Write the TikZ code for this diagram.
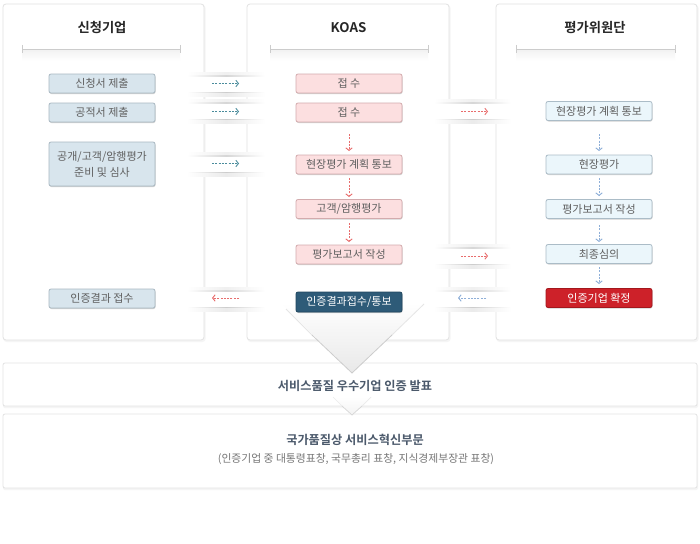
\documentclass[tikz,border=0pt]{standalone}
\usepackage{fontspec}
\setmainfont{Noto Sans CJK KR}[BoldFont={Noto Sans CJK KR Bold}]
\usetikzlibrary{arrows.meta,shadows}
\definecolor{panelborder}{HTML}{E2E2E2}
\definecolor{lfill}{HTML}{D8E5ED}
\definecolor{lborder}{HTML}{A9B8C2}
\definecolor{mfill}{HTML}{FCDFE0}
\definecolor{mborder}{HTML}{D3ABAD}
\definecolor{rfill}{HTML}{EBF6FB}
\definecolor{rborder}{HTML}{ABBCC7}
\definecolor{dfill}{HTML}{2E5B78}
\definecolor{dborder}{HTML}{21475F}
\definecolor{redfill}{HTML}{CD2129}
\definecolor{redborder}{HTML}{A3171D}
\definecolor{boxtext}{HTML}{5F5F5F}
\definecolor{teal}{HTML}{4A8C9C}
\definecolor{pinkarrow}{HTML}{E86D6D}
\definecolor{bluearrow}{HTML}{8EAFD8}
\definecolor{bandtext}{HTML}{4B596B}
\definecolor{subtext}{HTML}{777777}
\newcommand\gapstrip[4]{%
  \fill[white] (#1,#3) rectangle (#2,#4);
  \shade[left color=white,right color=white,middle color=black!6] (#1,#3-2.5) rectangle (#2,#3);
  \shade[left color=white,right color=white,middle color=black!16] (#1,#3) rectangle (#2,#3+1);
  \shade[left color=white,right color=white,middle color=black!20] (#1,#4-1) rectangle (#2,#4);
  \shade[left color=white,right color=white,middle color=black!8] (#1,#4) rectangle (#2,#4+3);
}
\begin{document}
\begin{tikzpicture}[x=1pt,y=-1pt,
  panel/.style={fill=white,draw=panelborder,line width=0.8pt,rounded corners=3pt},
  panelshadow/.style={fill=black!4,rounded corners=3pt},
  htitle/.style={font=\bfseries\fontsize{13.3}{15}\selectfont,text=black!85,inner sep=0pt},
  hline/.style={draw=black!20,line width=0.9pt},
  base/.style={rectangle,rounded corners=2pt,minimum width=106pt,minimum height=19pt,inner sep=0pt,
    font=\fontsize{11}{17}\selectfont,line width=0.8pt,align=center,
    drop shadow={shadow xshift=0.5pt,shadow yshift=-1pt,opacity=0.18,fill=black}},
  lbox/.style={base,fill=lfill,draw=lborder,text=boxtext},
  mbox/.style={base,fill=mfill,draw=mborder,text=boxtext},
  rbox/.style={base,fill=rfill,draw=rborder,text=boxtext},
  dbox/.style={base,fill=dfill,draw=dborder,text=white},
  redbox/.style={base,fill=redfill,draw=redborder,text=white},
  darr/.style={line width=0.8pt,dash pattern=on 2pt off 1.3pt,
    -{Straight Barb[length=2.6pt,width=6.5pt,line width=0.9pt]}},
  band/.style={fill=white,draw=black!11,line width=0.8pt,rounded corners=2pt},
  bandtitle/.style={font=\bfseries\fontsize{12.2}{14}\selectfont,text=bandtext,inner sep=0pt},
  bandsub/.style={font=\fontsize{10.8}{13}\selectfont,text=subtext,inner sep=0pt}
]
\useasboundingbox (0,0) rectangle (700,543);
\fill[white] (0,0) rectangle (700,543);

% panels
\fill[panelshadow] (3.5,5) rectangle (205.5,342);
\fill[panelshadow] (247.5,5) rectangle (450.5,342);
\fill[panelshadow] (496.5,5) rectangle (698.5,342);
\draw[panel] (3,4) rectangle (204,340);
\draw[panel] (247,4) rectangle (449,340);
\draw[panel] (496,4) rectangle (697,340);

% headers
\node[htitle] (h1) at (102,27.5) {신청기업};
\node[htitle] (h2) at (348.5,27.5) {KOAS};
\node[htitle] (h3) at (595,27.5) {평가위원단};
\foreach \a/\b in {22/180,270/428,516/675}{
  \shade[top color=black!5,bottom color=white] (\a,50) rectangle (\b,61);
  \draw[hline] (\a,49) -- (\b,49);
  \draw[hline] (\a,45) -- (\a,53);
  \draw[hline] (\b,45) -- (\b,53);
}

% gap strips
\gapstrip{187}{265}{75}{93}
\gapstrip{187}{265}{102}{120}
\gapstrip{187}{265}{155}{173}
\gapstrip{187}{265}{290}{308}
\gapstrip{434}{511}{102}{120}
\gapstrip{434}{511}{247}{265}
\gapstrip{434}{511}{290}{308}

% bottom bands
\fill[black!4,rounded corners=2pt] (3,364) rectangle (698,408);
\draw[band] (3,363) rectangle (697,406);
\fill[black!4,rounded corners=2pt] (3,415) rectangle (698,490);
\draw[band] (3,414) rectangle (697,488);

% big funnel triangle
\shade[top color=white,bottom color=black!9] (281,303) -- (425,303) -- (352,373) -- cycle;
\draw[black!10,line width=0.8pt] (286,309) -- (312,335);
\draw[black!20,line width=0.8pt] (312,335) -- (352,373) -- (392,335);
\draw[black!10,line width=0.8pt] (392,335) -- (424,304);

% small triangle
\shade[top color=white,bottom color=black!5] (333,397) -- (371,397) -- (352,415) -- cycle;
\draw[black!8,line width=0.7pt] (333,397) -- (342,406);
\draw[black!16,line width=0.7pt] (342,406) -- (352,415) -- (362,406);
\draw[black!8,line width=0.7pt] (362,406) -- (371,397);

% boxes left
\node[lbox] (a1) at (102,83.5) {신청서 제출};
\node[lbox] (a2) at (102,112.5) {공적서 제출};
\node[lbox,minimum height=44pt] (a3) at (102,164) {공개/고객/암행평가\\[-1pt]준비 및 심사};
\node[lbox] (a4) at (102,298.5) {인증결과 접수};
% boxes middle
\node[mbox] (b1) at (349,83.5) {접 수};
\node[mbox] (b2) at (349,112.5) {접 수};
\node[mbox] (b3) at (349,164.5) {현장평가 계획 통보};
\node[mbox] (b4) at (349,209) {고객/암행평가};
\node[mbox] (b5) at (349,254.5) {평가보고서 작성};
\node[dbox,minimum height=20pt] (b6) at (349,302) {인증결과접수/통보};
% boxes right
\node[rbox] (c1) at (599,111) {현장평가 계획 통보};
\node[rbox] (c2) at (599,164.5) {현장평가};
\node[rbox] (c3) at (599,209) {평가보고서 작성};
\node[rbox] (c4) at (599,254) {최종심의};
\node[redbox] (c5) at (599,298) {인증기업 확정};

% band texts
\node[bandtitle] (t1) at (355,386) {서비스품질 우수기업 인증 발표};
\node[bandtitle] (t2) at (355,440) {국가품질상 서비스혁신부문};
\node[bandsub] (t3) at (356,459) {(인증기업 중 대통령표창, 국무총리 표창, 지식경제부장관 표창)};

% arrow end coordinates
\coordinate (p1s) at (212,83.5);  \coordinate (p1e) at (239,83.5);
\coordinate (p2s) at (212,111.5); \coordinate (p2e) at (239,111.5);
\coordinate (p3s) at (212,163.5); \coordinate (p3e) at (239,163.5);
\coordinate (p4s) at (239,298);   \coordinate (p4e) at (212,298);
\coordinate (q1s) at (461,111.5); \coordinate (q1e) at (488,111.5);
\coordinate (q2s) at (461,256);   \coordinate (q2e) at (488,256);
\coordinate (q3s) at (486,298);   \coordinate (q3e) at (458,298);
\coordinate (m1s) at (349,134);   \coordinate (m1e) at (349,151);
\coordinate (m2s) at (349,178);   \coordinate (m2e) at (349,197);
\coordinate (m3s) at (349,223);   \coordinate (m3e) at (349,242);
\coordinate (r1s) at (599,134);   \coordinate (r1e) at (599,151);
\coordinate (r2s) at (599,178);   \coordinate (r2e) at (599,196);
\coordinate (r3s) at (599,225);   \coordinate (r3e) at (599,242);
\coordinate (r4s) at (599,267);   \coordinate (r4e) at (599,284);

\draw[darr,teal] (p1s) -- (p1e);
\draw[darr,teal] (p2s) -- (p2e);
\draw[darr,teal] (p3s) -- (p3e);
\draw[darr,pinkarrow] (p4s) -- (p4e);
\draw[darr,pinkarrow] (q1s) -- (q1e);
\draw[darr,pinkarrow] (q2s) -- (q2e);
\draw[darr,bluearrow] (q3s) -- (q3e);
\draw[darr,pinkarrow] (m1s) -- (m1e);
\draw[darr,pinkarrow] (m2s) -- (m2e);
\draw[darr,pinkarrow] (m3s) -- (m3e);
\draw[darr,bluearrow] (r1s) -- (r1e);
\draw[darr,bluearrow] (r2s) -- (r2e);
\draw[darr,bluearrow] (r3s) -- (r3e);
\draw[darr,bluearrow] (r4s) -- (r4e);
\end{tikzpicture}
\end{document}
